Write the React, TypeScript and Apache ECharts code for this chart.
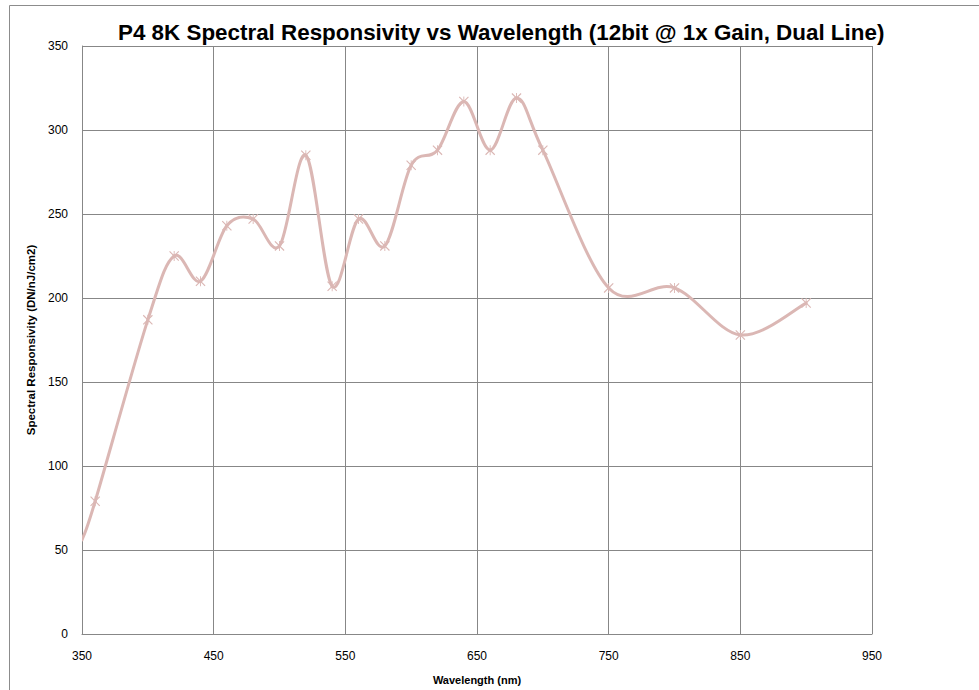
import React, { useEffect, useRef } from "react";
import * as echarts from "echarts";

const titleText = "P4 8K Spectral Responsivity vs Wavelength (12bit @ 1x Gain, Dual Line)";
const xAxisName = "Wavelength (nm)";
const yAxisName = "Spectral Responsivity (DN/nJ/cm2)";
const wavelengths = [350, 360, 400, 420, 440, 460, 480, 500, 520, 540, 560, 580, 600, 620, 640, 660, 680, 700, 750, 800, 850, 900];
const responsivity = [56, 79, 187, 225, 210, 243, 247, 231, 285, 207, 247, 231, 279, 288, 317, 288, 319, 288, 206, 206, 178, 197];
const xMin = 350;
const xMax = 950;
const xStep = 100;
const yMin = 0;
const yMax = 350;
const yStep = 50;

const lineColor = "#DBB7B4";
const gridColor = "#878787";
const starPath =
  "path://M0,0.8 L0.8,0 L10,9.2 L9.2,10 Z M9.2,0 L10,0.8 L0.8,10 L0,9.2 Z M4.55,0 L5.45,0 L5.45,10 L4.55,10 Z";

export default function App() {
  const ref = useRef<HTMLDivElement>(null);
  useEffect(() => {
    if (!ref.current) return;
    const chart = echarts.init(ref.current, undefined, { renderer: "svg" });
    const n = wavelengths.length;
    const points = wavelengths.map((w, i) => [w, responsivity[i]]);
    const markerData = wavelengths.map((w, i) =>
      i === 0 ? { value: [w, responsivity[i]], symbol: "none" } : { value: [w, responsivity[i]] }
    );
    const renderSegment = (params: any, api: any) => {
      const i = params.dataIndex;
      if (i >= n - 1) return null;
      const P = (k: number) => {
        const kk = Math.max(0, Math.min(n - 1, k));
        return api.coord(points[kk]);
      };
      const p0 = P(i - 1);
      const p1 = P(i);
      const p2 = P(i + 1);
      const p3 = P(i + 2);
      return {
        type: "bezierCurve",
        shape: {
          x1: p1[0],
          y1: p1[1],
          cpx1: p1[0] + (p2[0] - p0[0]) / 6,
          cpy1: p1[1] + (p2[1] - p0[1]) / 6,
          cpx2: p2[0] - (p3[0] - p1[0]) / 6,
          cpy2: p2[1] - (p3[1] - p1[1]) / 6,
          x2: p2[0],
          y2: p2[1],
        },
        style: { stroke: lineColor, lineWidth: 3, fill: null, lineCap: "round" },
        silent: true,
      };
    };
    chart.setOption({
      animation: false,
      backgroundColor: "#fff",
      title: {
        text: titleText,
        left: 113,
        top: 16,
        textStyle: {
          fontFamily: "Liberation Sans, sans-serif",
          fontWeight: "bold",
          fontSize: 22.4,
          color: "#000",
        },
      },
      graphic: [
        {
          type: "rect",
          shape: { x: 9.5, y: 5.5, width: 1200, height: 1200 },
          style: { fill: "none", stroke: "#8c8c8c", lineWidth: 1 },
          silent: true,
        },
      ],
      grid: { left: 82, top: 46, right: 107, bottom: 55, containLabel: false },
      xAxis: {
        type: "value",
        min: xMin,
        max: xMax,
        interval: xStep,
        name: xAxisName,
        nameLocation: "middle",
        nameGap: 40,
        nameTextStyle: { fontFamily: "Liberation Sans, sans-serif", fontWeight: "bold", fontSize: 11, color: "#000" },
        axisLine: { show: true, lineStyle: { color: gridColor, width: 1 } },
        axisTick: { show: false },
        axisLabel: { margin: 16, fontFamily: "Liberation Sans, sans-serif", fontSize: 12, color: "#000" },
        splitLine: { show: true, lineStyle: { color: gridColor, width: 1 } },
      },
      yAxis: {
        type: "value",
        min: yMin,
        max: yMax,
        interval: yStep,
        name: yAxisName,
        nameLocation: "middle",
        nameGap: 38,
        nameRotate: 90,
        nameTextStyle: { fontFamily: "Liberation Sans, sans-serif", fontWeight: "bold", fontSize: 11.5, color: "#000" },
        axisLine: { show: true, lineStyle: { color: gridColor, width: 1 } },
        axisTick: { show: false },
        axisLabel: { margin: 14, fontFamily: "Liberation Sans, sans-serif", fontSize: 12, color: "#000" },
        splitLine: { show: true, lineStyle: { color: gridColor, width: 1 } },
      },
      series: [
        {
          type: "custom",
          data: points,
          encode: { x: 0, y: 1 },
          renderItem: renderSegment,
          clip: true,
          z: 2,
        },
        {
          type: "line",
          data: markerData,
          symbol: starPath,
          symbolSize: 10,
          showAllSymbol: true,
          lineStyle: { opacity: 0, width: 0 },
          itemStyle: { color: lineColor },
          z: 3,
        },
      ],
    });
    return () => chart.dispose();
  }, []);
  return <div ref={ref} style={{ position: "absolute", left: 0, top: 0, width: 979, height: 690 }} />;
}
